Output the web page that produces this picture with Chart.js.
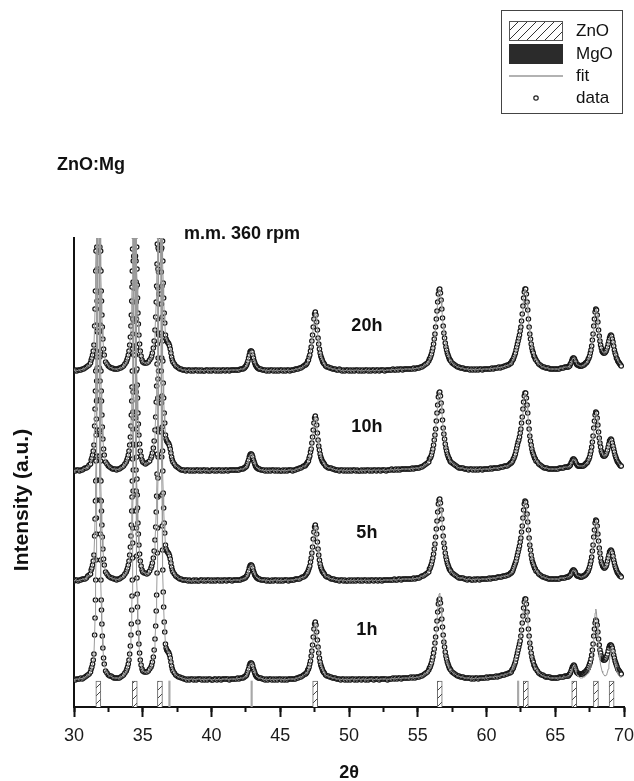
<!DOCTYPE html>
<html><head><meta charset="utf-8">
<script src="https://cdn.jsdelivr.net/npm/chart.js@4.4.1/dist/chart.umd.min.js"></script>
<style>html,body{margin:0;padding:0;background:#fff}canvas{display:block}</style>
</head><body>
<canvas id="c" width="634" height="781"></canvas>
<script>
// 2-theta grid (degrees)
const theta = [
30,30.1,30.2,30.3,30.4,30.5,30.6,30.7,30.8,30.9,31,31.1,31.2,
31.25,31.3,31.35,31.4,31.45,31.5,31.53,31.56,31.58,31.6,31.62,31.63,31.64,31.65,31.66,31.67,31.68,31.69,31.7,31.71,31.72,31.73,31.74,31.75,31.76,31.77,
31.78,31.79,31.8,31.81,31.82,31.83,31.84,31.85,31.86,31.87,31.88,31.89,31.9,31.92,31.94,31.96,31.98,32,32.03,32.06,32.1,32.15,32.2,32.3,
32.4,32.5,32.6,32.7,32.8,32.9,33,33.1,33.2,33.3,33.4,33.5,33.6,33.7,33.8,
33.85,33.9,33.95,34,34.05,34.1,34.14,34.17,34.2,34.22,34.24,34.26,34.27,34.28,34.29,34.3,34.31,34.32,34.33,34.34,34.35,34.36,34.37,34.38,34.39,34.4,34.41,
34.42,34.43,34.44,34.45,34.46,34.47,34.48,34.49,34.5,34.51,34.52,34.53,34.54,34.56,34.58,34.6,34.62,34.65,34.68,34.72,34.77,34.82,34.88,34.95,
35,35.1,35.2,35.3,35.4,35.5,35.6,
35.65,35.7,35.77,35.83,35.89,35.94,35.98,36.01,36.04,36.06,36.08,36.1,36.11,36.12,36.13,36.14,36.15,36.16,36.17,36.18,36.19,36.2,36.21,36.22,36.23,36.24,36.25,
36.26,36.27,36.28,36.29,36.3,36.31,36.32,36.33,36.34,36.35,36.36,36.37,36.38,36.4,36.42,36.44,36.46,36.49,36.52,36.56,36.6,
36.65,36.7,36.75,36.8,36.85,36.9,36.95,37,37.05,37.1,37.15,37.2,
37.3,37.4,37.5,37.6,37.7,37.8,37.9,38,38.1,38.2,38.3,38.4,38.5,38.6,38.7,38.8,38.9,39,39.1,39.2,39.3,39.4,39.5,39.6,39.7,39.8,39.9,40,
40.1,40.2,40.3,40.4,40.5,40.6,40.7,40.8,40.9,41,41.1,41.2,41.3,41.4,41.5,41.6,41.7,41.8,41.9,42,42.1,42.2,42.3,
42.35,42.4,42.45,42.5,42.55,42.6,42.65,42.7,42.75,42.8,42.85,42.9,42.95,43,43.05,43.1,43.15,43.2,43.25,43.3,43.35,43.4,43.45,
43.5,43.6,43.7,43.8,43.9,44,44.1,44.2,44.3,44.4,44.5,44.6,44.7,44.8,44.9,45,45.1,45.2,45.3,45.4,45.5,45.6,45.7,45.8,45.9,46,46.1,46.2,46.3,46.4,46.5,46.6,46.7,46.8,
46.85,46.9,46.95,47,47.05,47.1,47.15,47.2,47.25,47.3,47.35,47.4,47.45,47.5,47.55,47.6,47.65,47.7,47.75,47.8,47.85,47.9,47.95,48,48.05,48.1,48.15,48.2,
48.3,48.4,48.5,48.6,48.7,48.8,48.9,49,49.1,49.2,49.3,49.4,49.5,49.6,49.7,49.8,49.9,50,50.1,50.2,50.3,50.4,50.5,50.6,50.7,50.8,50.9,51,
51.1,51.2,51.3,51.4,51.5,51.6,51.7,51.8,51.9,52,52.1,52.2,52.3,52.4,52.5,52.6,52.7,52.8,52.9,53,53.1,53.2,53.3,53.4,53.5,53.6,53.7,53.8,53.9,54,
54.1,54.2,54.3,54.4,54.5,54.6,54.7,54.8,54.9,55,55.1,55.2,55.3,55.4,55.5,55.6,55.7,55.8,
55.85,55.9,55.95,56,56.05,56.1,56.15,56.2,56.25,56.3,56.35,56.4,56.45,56.5,56.55,56.6,56.65,56.7,56.75,56.8,56.85,56.9,56.95,57,57.05,57.1,57.15,57.2,57.25,57.3,57.35,
57.4,57.5,57.6,57.7,57.8,57.9,58,58.1,58.2,58.3,58.4,58.5,58.6,58.7,58.8,58.9,59,59.1,59.2,59.3,59.4,59.5,59.6,59.7,59.8,59.9,60,60.1,60.2,60.3,
60.4,60.5,60.6,60.7,60.8,60.9,61,61.1,61.2,61.3,61.4,61.5,61.6,61.7,
61.75,61.8,61.85,61.9,61.95,62,62.05,62.1,62.15,62.2,62.25,62.3,62.35,62.4,62.45,62.5,62.55,62.6,62.65,62.7,62.75,62.8,62.85,62.9,62.95,63,63.05,63.1,63.15,63.2,63.25,63.3,63.35,63.4,63.45,63.5,63.55,63.6,
63.7,63.8,63.9,64,64.1,64.2,64.3,64.4,64.5,64.6,64.7,64.8,64.9,65,65.1,65.2,65.3,65.4,65.5,65.6,65.7,65.8,65.9,
65.95,66,66.05,66.1,66.15,66.2,66.25,66.3,66.35,66.4,66.45,66.5,66.55,66.6,66.65,66.7,66.75,66.8,66.85,66.9,66.95,
67,67.05,67.1,67.15,67.2,67.25,67.3,67.35,67.4,67.45,67.5,67.55,67.6,67.65,67.7,67.75,67.8,67.85,67.9,67.95,
68,68.05,68.1,68.15,68.2,68.25,68.3,68.35,68.4,68.45,68.5,68.55,68.6,68.65,68.7,68.75,68.8,68.85,68.9,68.95,
69,69.05,69.1,69.15,69.2,69.25,69.3,69.35,69.4,69.45,69.5,69.55,69.6,69.65,69.7,69.75,69.8
];

// the three strong ZnO reflections run off scale in every pattern and look the same in all four
const zno100Profile = [11,13,16,20,26,45,62,80,100,120,146,162,180,200,224,250,280,312,348,388,428,467,504,534,553,560,
553,534,504,467,428,388,348,312,280,250,224,200,180,146,120,100,80,70,56,44,32,22,16,9];
const zno002Profile = [11,13,16,20,26,34,45,56,70,84,100,122,137,152,169,189,210,235,262,293,325,359,392,423,448,464,470,
464,448,423,392,359,325,293,262,235,210,189,169,152,124,102,86,73,58,47,36,27,20,15,11];
const zno101Profile = [15,18,23,30,41,54,69,85,107,127,152,183,202,223,248,277,309,345,386,430,478,527,576,621,658,682,690,
682,658,621,576,527,478,430,386,345,309,277,248,223,185,154,130,110,88,73,58,48,
36,32,30,29,28,27,25,22,18,14,11,9];

// measured intensity above each pattern's own background (a.u.)
const counts20h = [
0,1,0,1,1,1,2,2,3,4,5,6,8,
...zno100Profile,
7,5,4,3,3,2,2,2,2,3,3,4,5,7,9,
...zno002Profile,
9,8,8,8,9,11,13,
...zno101Profile,
7,5,4,3,2,2,1,1, 1,0,1,1,0,1,0,1,1,0, 1,0,1,0,0,1,1,0,1,0, 1,1,0,1,0,1,0,1,1,0, 1,1,0,1,1,1,1,1,1,1, 2,2,2,
3,3,4,5,6,8,10,13,16,19,20,20,19,16,13,10,8,6,5,4,3,3,2,
2,2,1,1,1,0,1,0,1,1, 0,1,0,1,0,1,1,0,1,0, 1,1,0,1,1,1,2,2,2,3, 3,4,5,6,
6,7,8,10,11,14,16,20,24,30,36,44,52,57,59,56,49,41,33,27,22,18,15,13,11,9,8,7,
5,4,4,3,3,2,2,2, 1,1,2,1,0,1,0,1,1,0, 1,0,1,0,1,1,0,1,0,1, 0,1,1,0,1,0,1,1,0,1, 1,0,1,1,1,0,1,1,1,1, 1,2,1,1,2,1,2,2,1,2, 2,2,2,2,2,2,3,2,3,3, 3,4,4,5,6,7,8,10,
12,13,15,17,20,23,27,32,37,44,52,60,69,77,81,82,78,71,62,53,45,38,33,28,24,21,18,16,14,12,11,
10,8,7,6,5,4,4,3,3,3, 2,2,2,2,1,2,1,2,1,2, 1,2,2,1,2,2,2,2,2,2, 3,2,3,3,3,4,3,4,4,5, 5,6,6,7,
8,8,10,11,12,14,16,18,21,24,27,30,33,36,40,44,50,57,65,73,79,82,82,77,69,61,52,44,37,32,27,23,20,18,15,14,12,11,
9,7,6,5,4,4,3,3,3,2,2,2,2,2,2,2,2,3,3,3,4,4,4,
4,5,5,7,8,10,12,13,13,12,10,9,7,6,6,6,5,5,5,5,5,
6,6,6,7,8,8,9,10,12,13,15,18,21,25,31,37,45,52,59,62,
61,56,49,41,35,30,26,23,20,19,18,18,18,19,20,22,24,27,30,33,
35,36,35,32,29,25,21,18,16,13,12,10,9,8,7,6,5
];
const counts10h = [
1,0,1,1,0,1,1,2,3,3,4,6,7,
...zno100Profile,
7,5,4,3,2,2,2,1,2,2,3,4,5,7,9,
...zno002Profile,
9,8,7,8,9,10,13,
...zno101Profile,
7,5,4,3,2,1,1,1, 0,1,1,0,1,0,1,0,1,1, 0,1,0,1,1,0,1,0,0,1, 1,0,1,0,1,1,0,1,0,1, 1,0,1,1,1,1,1,1,1,1, 2,2,2,
3,3,4,4,5,7,9,11,14,16,17,17,16,14,11,9,7,5,4,3,3,2,2,
2,1,1,1,0,1,0,1,0,1, 1,0,1,0,1,0,0,1,0,1, 0,1,1,1,0,1,1,2,2,3, 3,4,5,5,
6,7,8,9,10,13,15,19,22,28,34,41,48,53,55,52,46,38,31,25,21,17,14,12,10,9,8,7,
5,4,3,3,3,2,2,1, 1,1,0,1,1,0,1,0,1,0, 1,0,1,1,0,1,0,0,1,0, 1,0,1,1,0,1,0,1,1,0, 1,1,0,1,1,1,0,1,1,1, 2,1,1,2,1,2,1,2,2,2, 2,2,2,2,2,3,2,3,3,3, 3,4,4,5,6,7,8,9,
12,13,14,16,19,22,26,31,36,42,50,58,66,74,78,79,75,68,60,51,43,37,32,27,23,20,17,15,13,12,10,
9,8,7,6,5,4,3,3,3,3, 2,2,2,1,2,2,1,2,1,2, 1,2,2,1,2,2,2,2,2,3, 2,3,3,3,3,3,4,4,4,5, 5,5,6,7,
8,8,9,10,12,13,15,17,20,23,26,29,31,34,38,42,48,54,62,69,75,78,78,73,66,58,49,42,35,30,26,22,19,17,15,13,12,10,
9,7,6,5,4,3,3,3,2,2,2,2,2,2,2,2,3,3,3,3,4,4,4,
4,5,5,6,8,9,11,12,12,11,10,8,7,6,5,5,5,5,5,5,5,
5,5,6,6,7,8,8,9,11,12,14,17,20,24,29,35,43,50,56,59,
58,53,46,39,33,28,24,20,18,16,15,15,15,16,17,19,21,24,27,30,
31,32,31,28,25,22,19,16,14,12,10,9,8,7,6,5,5
];
const counts5h = [
0,1,1,0,1,1,2,2,2,3,5,6,7,
...zno100Profile,
7,5,4,3,3,2,2,1,2,2,3,4,5,7,9,
...zno002Profile,
9,8,8,7,8,10,13,
...zno101Profile,
7,5,4,3,2,2,1,1, 1,1,0,1,0,0,1,0,1,0, 0,1,1,0,1,0,1,1,0,1, 0,1,0,1,1,0,1,0,1,1, 0,1,1,1,0,1,1,1,1,1, 1,2,2,
3,3,3,4,5,6,8,10,13,15,16,16,15,13,10,8,6,5,4,3,3,2,2,
2,1,1,1,1,0,1,0,0,1, 0,1,1,0,1,0,1,0,1,1, 1,0,1,1,1,1,2,2,2,2, 3,4,4,5,
6,7,8,9,11,13,15,19,23,28,34,42,49,54,56,53,47,39,32,26,21,17,14,12,10,9,8,7,
5,4,4,3,2,2,2,1, 1,1,0,1,1,0,1,0,0,1, 0,1,0,1,0,1,1,0,1,0, 1,1,0,1,0,1,1,0,1,1, 0,1,1,0,1,1,1,1,1,1, 1,1,2,1,1,2,2,1,2,2, 2,2,2,2,2,2,3,2,3,3, 3,4,5,5,6,7,8,9,
12,13,15,17,20,23,27,32,37,44,52,60,69,77,81,82,78,71,62,53,45,38,33,28,24,21,18,16,14,12,11,
10,8,7,6,5,4,3,3,3,3, 2,2,1,2,2,1,1,2,1,2, 2,1,2,2,2,2,2,2,3,2, 3,3,3,3,4,4,4,4,5,5, 5,6,6,7,
8,8,9,10,12,14,16,18,20,23,26,29,32,35,39,43,49,55,63,71,77,80,79,75,67,59,51,43,36,31,26,22,19,17,15,13,12,10,
9,7,6,5,4,4,3,3,2,2,2,2,2,2,2,2,2,3,3,3,3,4,4,
4,5,5,6,7,9,10,11,11,10,9,7,6,5,5,5,5,4,4,4,4,
5,5,5,6,6,7,8,9,10,12,14,17,20,24,30,36,44,51,58,61,
60,55,47,40,33,28,23,19,17,15,14,13,13,14,15,17,20,23,26,29,
30,31,30,28,25,21,18,15,13,11,9,8,7,6,5,5,4
];
const counts1h = [
1,0,1,1,1,2,1,2,3,4,5,6,8,
...zno100Profile,
7,5,4,4,3,2,2,2,2,2,3,4,5,7,9,
...zno002Profile,
9,8,8,8,9,11,13,
...zno101Profile,
7,5,4,3,3,2,2,1, 1,0,1,0,1,1,0,1,0,1, 1,1,0,1,0,1,0,1,1,0, 0,1,1,0,1,1,0,1,1,1, 1,1,0,1,1,1,1,1,2,1, 2,2,2,
3,3,4,4,5,7,9,11,14,16,17,17,16,14,11,9,7,5,4,3,3,2,2,
2,2,1,1,0,1,0,1,1,0, 1,0,1,0,1,1,0,1,0,1, 0,1,1,1,1,1,1,2,2,3, 3,4,5,6,
6,7,8,10,11,13,16,19,24,29,35,43,51,56,58,55,48,40,33,27,22,18,15,13,11,9,8,7,
5,4,4,3,3,2,2,2, 1,1,1,0,1,1,0,1,0,1, 0,1,1,0,1,0,1,1,0,1, 1,0,1,0,1,1,1,0,1,1, 1,0,1,1,1,1,1,0,1,1, 1,2,1,2,1,2,2,1,2,2, 2,2,2,2,3,2,3,2,3,3, 3,4,4,5,6,7,8,10,
12,13,15,17,20,23,27,31,37,43,51,59,68,76,80,81,77,70,61,53,45,38,33,28,24,21,18,16,14,12,11,
10,8,7,6,5,4,4,3,3,3, 2,2,2,2,2,1,2,1,2,2, 1,2,2,2,2,2,3,2,3,3, 3,3,3,4,3,4,4,5,5,5, 6,6,7,7,
8,8,10,11,12,14,16,18,21,24,27,30,33,36,39,44,50,57,64,72,78,81,81,76,68,60,51,44,37,32,27,23,20,18,15,14,12,11,
9,7,6,5,5,4,3,3,3,3,2,2,2,2,2,2,3,3,3,3,4,4,4,
4,5,6,7,9,11,13,14,15,14,12,10,8,7,7,6,6,6,6,6,6,
6,7,7,8,8,9,10,11,12,14,16,18,21,25,30,36,44,51,57,60,
59,55,48,41,35,30,27,24,22,21,20,20,20,21,22,24,26,29,32,34,
35,35,34,32,29,25,22,19,17,15,13,11,10,9,8,7,6
];
// where the 1h fit departs from the 1h data: 55.85-57.35 and 61.75-69.8
const fit1hPeak110 = [11,12,13,15,17,20,24,28,34,41,49,59,70,80,86,87,81,72,62,52,43,36,30,25,21,18,16,14,12,11,10];
const fit1hHigh = [
9,10,11,13,15,17,19,22,25,28,31,34,37,40,44,48,53,59,66,73,79,82,81,76,68,59,50,42,35,29,25,21,18,16,14,12,11,10,
9,7,6,5,4,4,3,3,3,2,2,2,2,2,2,2,2,2,2,3,3,3,4,
4,5,6,7,8,10,12,14,14,13,11,8,6,5,4,3,3,2,2,2,2,
3,3,3,4,4,5,5,6,7,8,10,12,15,19,25,33,44,56,67,71,
67,56,44,34,26,20,15,12,9,7,6,5,4,4,5,6,8,11,15,20,
26,31,33,32,29,25,20,16,13,10,8,6,5,4,3,3,2
];

const sampleNames = ['20h', '10h', '5h', '1h'];
const stackOffsets = [336, 236, 126, 27];   // vertical offset of each stacked pattern (a.u.)
const znoRefs = [31.77, 34.42, 36.25, 47.54, 56.60, 62.86, 66.38, 67.96, 69.10];
const mgoRefs = [36.94, 42.92, 62.30];
const refMarkHeight = 26;

const countsList = [counts20h, counts10h, counts5h, counts1h];
const problems = [];
countsList.forEach((a, i) => {
  if (a.length !== theta.length) problems.push(sampleNames[i] + ': ' + a.length + ' vs ' + theta.length);
});
const fit1hCounts = counts1h.slice();
const i110 = theta.indexOf(55.85);
fit1hPeak110.forEach((v, k) => { fit1hCounts[i110 + k] = v; });
const iHigh = theta.indexOf(61.75);
fit1hHigh.forEach((v, k) => { fit1hCounts[iHigh + k] = v; });
if (iHigh + fit1hHigh.length !== theta.length) problems.push('fit window ' + (iHigh + fit1hHigh.length));
if (problems.length) throw new Error('length mismatch ' + problems.join('; '));
const fitList = [counts20h, counts10h, counts5h, fit1hCounts];

function series(counts, offset) { return theta.map((t, i) => ({ x: t, y: counts[i] + offset })); }

const FONT = '"Liberation Sans", Arial, Helvetica, sans-serif';
const canvas = document.getElementById('c');
const mainCtx = canvas.getContext('2d');

function makeHatch(step, color, bg) {
  const c = document.createElement('canvas'); c.width = step; c.height = step;
  const g = c.getContext('2d');
  g.fillStyle = bg; g.fillRect(0, 0, step, step);
  g.strokeStyle = color; g.lineWidth = 1;
  g.beginPath();
  g.moveTo(0, step); g.lineTo(step, 0);
  g.moveTo(-step / 2, step / 2); g.lineTo(step / 2, -step / 2);
  g.moveTo(step / 2, step * 1.5); g.lineTo(step * 1.5, step / 2);
  g.stroke();
  return mainCtx.createPattern(c, 'repeat');
}
const hatchBars = makeHatch(8, '#444', '#fff');
const hatchLegend = makeHatch(9, '#333', '#fff');

const datasets = [];
sampleNames.forEach((name, k) => {
  datasets.push({
    type: 'line', label: 'fit ' + name, data: series(fitList[k], stackOffsets[k]),
    borderColor: '#9a9a9a', borderWidth: 1, pointRadius: 0, tension: 0, fill: false, order: 0
  });
});
sampleNames.forEach((name, k) => {
  datasets.push({
    type: 'line', label: 'data ' + name, data: series(countsList[k], stackOffsets[k]),
    showLine: false, pointRadius: 2.2, pointBorderWidth: 1.2, pointBorderColor: '#161616',
    pointBackgroundColor: '#ffffff', order: 1
  });
});
datasets.push({
  type: 'bar', label: 'ZnO', data: znoRefs.map(x => ({ x, y: refMarkHeight })),
  backgroundColor: hatchBars, borderColor: '#666', borderWidth: 1, barThickness: 5, grouped: false, order: 2
});
datasets.push({
  type: 'bar', label: 'MgO', data: mgoRefs.map(x => ({ x, y: refMarkHeight })),
  backgroundColor: '#a8a8a8', borderWidth: 0, barThickness: 1.5, grouped: false, order: 2
});

const labelTheta = 51.3;
const labelLevels = [381, 280, 173.5, 77];

const decorations = {
  id: 'decorations',
  afterDraw(chart) {
    const { ctx, scales } = chart;
    const xs = scales.x, ys = scales.y;
    ctx.save();
    ctx.fillStyle = '#111';
    ctx.textBaseline = 'middle';
    ctx.font = 'bold 18px ' + FONT;
    ctx.textAlign = 'center';
    sampleNames.forEach((n, k) => ctx.fillText(n, xs.getPixelForValue(labelTheta), ys.getPixelForValue(labelLevels[k])));
    ctx.textAlign = 'left';
    ctx.fillText('ZnO:Mg', 57, 165);
    ctx.fillText('m.m. 360 rpm', 184, 234);
    ctx.save();
    ctx.translate(22, 500);
    ctx.rotate(-Math.PI / 2);
    ctx.textAlign = 'center';
    ctx.font = 'bold 21px ' + FONT;
    ctx.fillText('Intensity (a.u.)', 0, 0);
    ctx.restore();
    ctx.strokeStyle = '#444'; ctx.lineWidth = 1;
    ctx.strokeRect(501.5, 10.5, 121, 103);
    ctx.fillStyle = hatchLegend;
    ctx.fillRect(509, 21, 54, 20);
    ctx.strokeStyle = '#555';
    ctx.strokeRect(509.5, 21.5, 53, 19);
    ctx.fillStyle = '#2b2b2b';
    ctx.fillRect(509, 44, 54, 20);
    ctx.strokeStyle = '#999'; ctx.lineWidth = 1.5;
    ctx.beginPath(); ctx.moveTo(509, 76); ctx.lineTo(563, 76); ctx.stroke();
    ctx.strokeStyle = '#222'; ctx.lineWidth = 1.2; ctx.fillStyle = '#fff';
    ctx.beginPath(); ctx.arc(536, 98, 2.2, 0, Math.PI * 2); ctx.fill(); ctx.stroke();
    ctx.fillStyle = '#111';
    ctx.font = '17px ' + FONT;
    ctx.textAlign = 'left';
    ctx.fillText('ZnO', 576, 31);
    ctx.fillText('MgO', 576, 54);
    ctx.fillText('fit', 576, 76);
    ctx.fillText('data', 576, 98);
    ctx.restore();
  }
};

new Chart(canvas, {
  type: 'scatter',
  data: { datasets },
  options: {
    responsive: false, animation: false, devicePixelRatio: 1, events: [],
    layout: { padding: { top: 238, right: 10, bottom: 0, left: 0 } },
    plugins: { legend: { display: false }, tooltip: { enabled: false } },
    scales: {
      x: {
        type: 'linear', position: 'bottom', min: 30, max: 70, weight: 1, offset: false,
        ticks: { stepSize: 5, autoSkip: false, maxRotation: 0, padding: 8, color: '#1a1a1a', font: { size: 18, family: FONT } },
        grid: { display: true, drawOnChartArea: false, drawTicks: true, tickLength: 10, tickWidth: 2, tickColor: '#111', offset: false },
        border: { display: true, color: '#111', width: 2 },
        title: { display: true, text: '2θ', color: '#111', font: { size: 18, weight: 'bold', family: FONT, lineHeight: 1 }, padding: { top: 0, bottom: -1 } },
        afterFit: s => { s.height = 74; s.paddingLeft = 0; s.paddingRight = 0; }
      },
      xMinor: {
        type: 'linear', position: 'bottom', min: 30, max: 70, weight: 0, offset: false,
        ticks: { stepSize: 2.5, display: false, autoSkip: false },
        grid: { display: true, drawOnChartArea: false, drawTicks: true, tickLength: 5, tickWidth: 2, tickColor: '#111' },
        border: { display: false },
        afterFit: s => { s.height = 0; s.paddingLeft = 0; s.paddingRight = 0; }
      },
      y: {
        type: 'linear', position: 'left', min: 0, max: 469,
        ticks: { display: false },
        grid: { display: false },
        border: { display: true, color: '#111', width: 2 },
        afterFit: s => { s.width = 74; }
      }
    }
  },
  plugins: [decorations]
});
</script>
</body></html>
